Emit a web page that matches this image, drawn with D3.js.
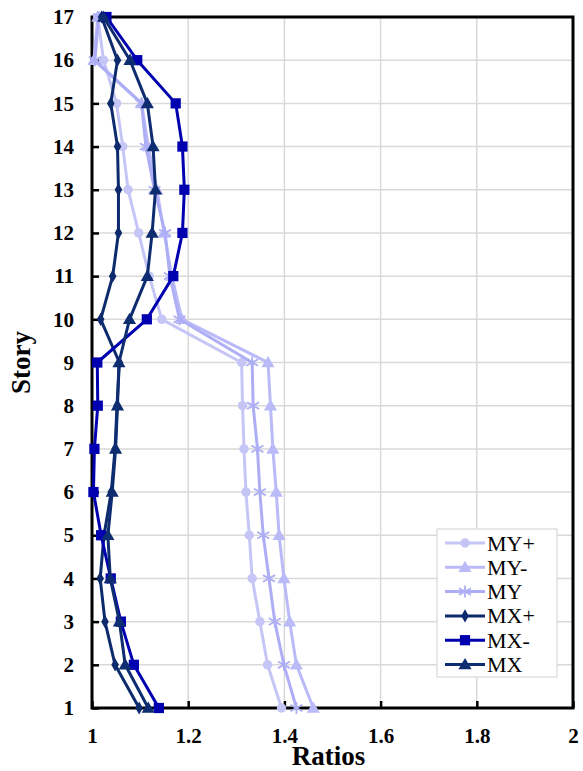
<!DOCTYPE html>
<html>
<head>
<meta charset="utf-8">
<script src="https://cdn.jsdelivr.net/npm/d3@7/dist/d3.min.js"></script>
<style>
  html, body { margin: 0; padding: 0; background: #ffffff; }
  svg { display: block; }
  text { font-family: "Liberation Serif", "Times New Roman", Times, "DejaVu Serif", serif; }
</style>
</head>
<body>
<svg id="chart" width="583" height="771"></svg>
<script>
// Story levels (bottom to top)
const stories = [1, 2, 3, 4, 5, 6, 7, 8, 9, 10, 11, 12, 13, 14, 15, 16, 17];

// Torsional ratios per story, Y direction
const myPlus  = [1.394, 1.365, 1.349, 1.333, 1.327, 1.320, 1.316, 1.313, 1.311, 1.145, 1.119, 1.097, 1.075, 1.064, 1.051, 1.024, 1.012];
const myMinus = [1.460, 1.425, 1.411, 1.399, 1.389, 1.383, 1.376, 1.371, 1.366, 1.187, 1.166, 1.150, 1.135, 1.117, 1.103, 1.004, 1.012];
const my      = [1.425, 1.399, 1.380, 1.368, 1.356, 1.349, 1.344, 1.335, 1.333, 1.182, 1.162, 1.152, 1.130, 1.112, 1.103, 1.006, 1.014];

// Torsional ratios per story, X direction
const mxPlus  = [1.098, 1.048, 1.027, 1.017, 1.025, 1.040, 1.048, 1.052, 1.057, 1.018, 1.043, 1.055, 1.055, 1.053, 1.039, 1.053, 1.020];
const mxMinus = [1.139, 1.087, 1.060, 1.039, 1.019, 1.003, 1.005, 1.012, 1.011, 1.114, 1.169, 1.188, 1.192, 1.188, 1.174, 1.094, 1.030];
const mx      = [1.117, 1.069, 1.057, 1.038, 1.033, 1.042, 1.049, 1.053, 1.056, 1.078, 1.115, 1.125, 1.132, 1.127, 1.115, 1.079, 1.024];

const xTicks = [1, 1.2, 1.4, 1.6, 1.8, 2];
const xTickLabels = ["1", "1.2", "1.4", "1.6", "1.8", "2"];

const seriesNames = ["MY+", "MY-", "MY", "MX+", "MX-", "MX"];
const seriesValues = [myPlus, myMinus, my, mxPlus, mxMinus, mx];
const seriesColors = ["#c6c6f6", "#babaf8", "#aeaef6", "#0c2a6c", "#0000b0", "#0e2c70"];
const seriesSymbols = ["circle", "triangle", "star", "diamond", "square", "triangle"];

const svg = d3.select("#chart");
const margin = { left: 92, right: 10, top: 17, bottom: 63 };
const W = 583, H = 771;

const x = d3.scaleLinear().domain([1, 2]).range([margin.left, W - margin.right]);
const y = d3.scaleLinear().domain([1, 17]).range([H - margin.bottom, margin.top]);

const fontSerif = '"Liberation Serif", "Times New Roman", Times, "DejaVu Serif", serif';

// Gridlines
const grid = svg.append("g");
grid.selectAll("line.v").data(xTicks.slice(1, -1)).enter().append("line")
  .attr("x1", d => x(d)).attr("x2", d => x(d))
  .attr("y1", y(17)).attr("y2", y(1))
  .attr("stroke", "#d9d9d9").attr("stroke-width", 1.5);
grid.selectAll("line.h").data(stories.slice(1, -1)).enter().append("line")
  .attr("x1", x(1)).attr("x2", x(2))
  .attr("y1", d => y(d)).attr("y2", d => y(d))
  .attr("stroke", "#d9d9d9").attr("stroke-width", 1.5);

// Plot frame
svg.append("rect")
  .attr("x", x(1)).attr("y", y(17))
  .attr("width", x(2) - x(1)).attr("height", y(1) - y(17))
  .attr("fill", "none").attr("stroke", "#000").attr("stroke-width", 3);

// Axes with inward ticks
const xAxis = d3.axisBottom(x).tickValues(xTicks)
  .tickFormat((d, i) => xTickLabels[i]).tickSizeInner(-7).tickSizeOuter(0).tickPadding(20);
const gx = svg.append("g").attr("transform", `translate(0,${y(1)})`).call(xAxis);
gx.attr("font-family", null);
gx.select(".domain").remove();
gx.selectAll(".tick line").attr("stroke", "#000").attr("stroke-width", 2.5);
gx.selectAll(".tick text")
  .style("font-family", fontSerif).attr("font-weight", "bold").attr("font-size", 21).attr("fill", "#000");

const yAxis = d3.axisLeft(y).tickValues(stories).tickFormat(d3.format("d"))
  .tickSizeInner(-7).tickSizeOuter(0).tickPadding(18);
const gy = svg.append("g").attr("transform", `translate(${x(1)},0)`).call(yAxis);
gy.attr("font-family", null);
gy.select(".domain").remove();
gy.selectAll(".tick line").attr("stroke", "#000").attr("stroke-width", 2.5);
gy.selectAll(".tick text")
  .style("font-family", fontSerif).attr("font-weight", "bold").attr("font-size", 21).attr("fill", "#000");

// Axis titles
svg.append("text")
  .attr("x", (x(1) + x(2)) / 2 - 4).attr("y", 765)
  .attr("text-anchor", "middle")
  .style("font-family", fontSerif).attr("font-weight", "bold").attr("font-size", 27)
  .text("Ratios");
svg.append("text")
  .attr("transform", `translate(30,${(y(1) + y(17)) / 2}) rotate(-90)`)
  .attr("text-anchor", "middle")
  .style("font-family", fontSerif).attr("font-weight", "bold").attr("font-size", 27)
  .text("Story");

// Marker shapes
function symbolPath(kind) {
  const map = {
    circle: [d3.symbolCircle, 70],
    triangle: [d3.symbolTriangle, 75],
    diamond: [d3.symbolDiamond, 50],
    square: [d3.symbolSquare, 105]
  };
  const [t, s] = map[kind];
  return d3.symbol().type(t).size(s)();
}

function drawMarker(g, kind, color, cx, cy) {
  if (kind === "star") {
    const r = 6;
    const star = g.append("g").attr("transform", `translate(${cx},${cy})`)
      .attr("stroke", color).attr("stroke-width", 1.8);
    star.append("line").attr("x1", -r).attr("x2", r).attr("y1", -r * 0.55).attr("y2", r * 0.55);
    star.append("line").attr("x1", -r).attr("x2", r).attr("y1", r * 0.55).attr("y2", -r * 0.55);
    star.append("line").attr("x1", 0).attr("x2", 0).attr("y1", -r).attr("y2", r);
  } else {
    g.append("path").attr("d", symbolPath(kind))
      .attr("transform", `translate(${cx},${cy + (kind === "triangle" ? 1 : 0)})`)
      .attr("fill", color);
  }
}

const line = d3.line().x(d => x(d[0])).y(d => y(d[1]));

seriesValues.forEach((vals, i) => {
  const pts = vals.map((v, k) => [v, stories[k]]);
  const g = svg.append("g");
  g.append("path").datum(pts).attr("d", line)
    .attr("fill", "none").attr("stroke", seriesColors[i])
    .attr("stroke-width", 3).attr("stroke-linejoin", "round");
  pts.forEach(p => drawMarker(g, seriesSymbols[i], seriesColors[i], x(p[0]), y(p[1])));
});

// Legend
const lg = svg.append("g");
lg.append("rect").attr("x", 437).attr("y", 529).attr("width", 120).attr("height", 148)
  .attr("fill", "#fff").attr("stroke", "#d9d9d9").attr("stroke-width", 1.2);
seriesNames.forEach((name, i) => {
  const cy = 543 + i * 24.3;
  lg.append("line").attr("x1", 445).attr("x2", 485).attr("y1", cy).attr("y2", cy)
    .attr("stroke", seriesColors[i]).attr("stroke-width", 3);
  drawMarker(lg, seriesSymbols[i], seriesColors[i], 465, cy);
  lg.append("text").attr("x", 487).attr("y", cy + 7.5)
    .style("font-family", fontSerif).attr("font-size", 22).attr("fill", "#000")
    .text(name);
});
</script>
</body>
</html>
